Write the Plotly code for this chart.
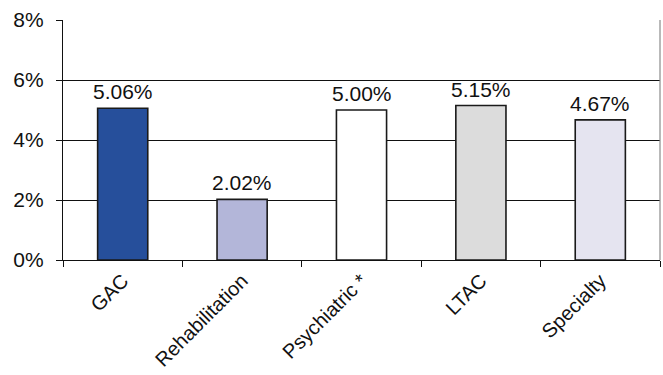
import plotly.graph_objects as go

# Hospital type categories and their rates (percent)
categories = ["GAC", "Rehabilitation", "Psychiatric *", "LTAC", "Specialty"]
rates = [5.06, 2.02, 5.00, 5.15, 4.67]
bar_colors = ["#264f9b", "#b3b6d9", "#ffffff", "#dcdcdc", "#e5e4f0"]
y_ticks = [0, 2, 4, 6, 8]
y_tick_labels = ["0%", "2%", "4%", "6%", "8%"]

font_family = "Liberation Sans, Arial, sans-serif"

fig = go.Figure(
    go.Bar(
        x=categories,
        y=rates,
        marker=dict(color=bar_colors, line=dict(color="#1a1a1a", width=1.6)),
        hoverinfo="skip",
    )
)

# Value labels above each bar
for cat, val in zip(categories, rates):
    fig.add_annotation(
        x=cat, y=val, text=f"{val:.2f}%",
        showarrow=False, yanchor="bottom", yshift=3,
        font=dict(family=font_family, size=21, color="#111"),
    )

fig.update_layout(
    width=663,
    height=375,
    margin=dict(l=63, r=3, t=20, b=115),
    paper_bgcolor="white",
    plot_bgcolor="white",
    bargap=0.58,
    showlegend=False,
    font=dict(family=font_family, size=20, color="#111"),
)

fig.update_xaxes(
    automargin=False,
    tickangle=-45,
    tickson="boundaries",
    ticks="outside",
    ticklen=6,
    tickcolor="#111",
    showline=True,
    linecolor="#111",
    linewidth=1.3,
    showgrid=False,
    ticklabelstandoff=0,
    tickfont=dict(family=font_family, size=20, color="#111"),
)

fig.update_yaxes(
    automargin=False,
    range=[0, 8],
    tickvals=y_ticks,
    ticktext=y_tick_labels,
    ticks="outside",
    ticklen=6,
    tickcolor="#111",
    showline=True,
    linecolor="#111",
    linewidth=1.3,
    showgrid=True,
    gridcolor="#111",
    gridwidth=1.2,
    zeroline=False,
    ticklabelstandoff=8,
    tickfont=dict(family=font_family, size=21, color="#111"),
)

# Thin gray frame line on the right edge of the plotting area
fig.add_shape(
    type="line", xref="paper", yref="paper",
    x0=1, x1=1, y0=0, y1=1,
    line=dict(color="#8a8a8a", width=1.2),
)

fig.write_html("out.html")
